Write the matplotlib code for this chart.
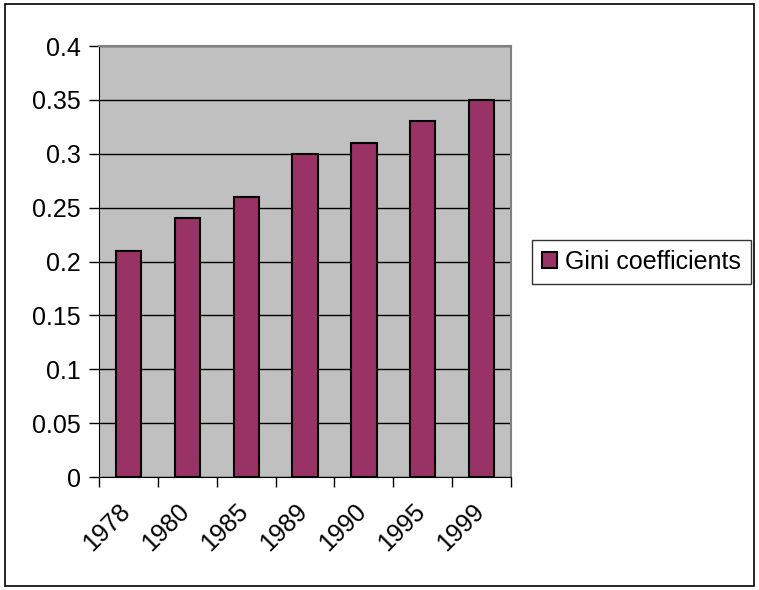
import matplotlib.pyplot as plt
from matplotlib.patches import Rectangle
from matplotlib.transforms import ScaledTranslation
import numpy as np

plt.rcParams['font.family'] = ['Liberation Sans', 'DejaVu Sans']

# Data
years = ['1978', '1980', '1985', '1989', '1990', '1995', '1999']
gini = [0.21, 0.24, 0.26, 0.30, 0.31, 0.33, 0.35]

fig = plt.figure(figsize=(7.59, 5.90), dpi=100)
ax = fig.add_axes([0.1304, 0.1915, 0.543, 0.7305])

x = np.arange(len(years))
ax.bar(x, gini, width=0.43, color='#993366', edgecolor='black', linewidth=1.5,
       label='Gini coefficients', zorder=3)

ax.set_facecolor('#C0C0C0')
ax.set_xlim(-0.5, len(years) - 0.5)
ax.set_ylim(0, 0.4)
ax.set_yticks(np.arange(0, 0.401, 0.05))
ax.set_yticklabels(['0', '0.05', '0.1', '0.15', '0.2', '0.25', '0.3', '0.35', '0.4'])
ax.yaxis.grid(True, color='black', linewidth=1)
ax.set_axisbelow(True)

# tick marks at category boundaries, labels centred under bars
ax.set_xticks(np.arange(-0.5, len(years)))
ax.set_xticklabels([''] * (len(years) + 1))
ax.set_xticks(x, minor=True)
ax.set_xticklabels(years, minor=True, rotation=45, ha='right', va='top',
                   rotation_mode='anchor')
ax.tick_params(axis='x', which='minor', length=0, pad=16, labelsize=18)
ax.tick_params(axis='x', which='major', length=7, width=1, direction='out')
ax.tick_params(axis='y', length=7, width=1, direction='out', labelsize=18, pad=6)

# nudge the rotated labels a little left, as in the original
shift = ScaledTranslation(-10 / 100, 0, fig.dpi_scale_trans)
for lbl in ax.get_xticklabels(minor=True):
    lbl.set_transform(lbl.get_transform() + shift)

for s in ['top', 'right']:
    ax.spines[s].set_color('#808080')
    ax.spines[s].set_linewidth(1.5)
ax.spines['left'].set_color('black')
ax.spines['bottom'].set_color('black')

leg = ax.legend(loc='center left', bbox_to_anchor=(1.05, 0.5), fontsize=18,
                frameon=True, fancybox=False, edgecolor='black', handlelength=0.6,
                handleheight=0.6, handletextpad=0.35, borderpad=0.4, borderaxespad=0)
leg.get_frame().set_linewidth(1)

# outer chart border
fig.patches.append(Rectangle((5 / 759, 4 / 590), 749 / 759, 582 / 590,
                             transform=fig.transFigure, fill=False,
                             edgecolor='black', linewidth=1.2))

fig.savefig('out.png', dpi=100)
